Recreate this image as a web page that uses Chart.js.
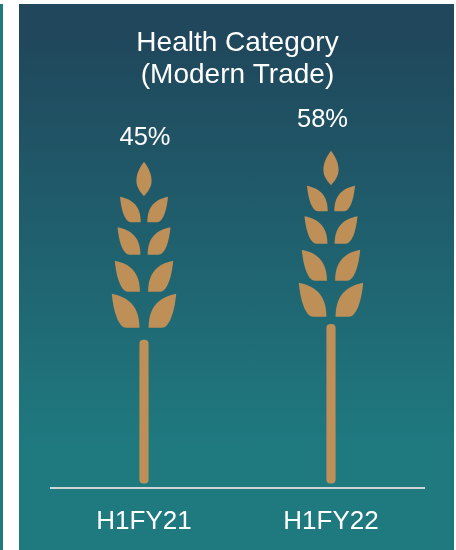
<!DOCTYPE html>
<html lang="en">
<head>
  <meta charset="UTF-8">
  <title>Health Category (Modern Trade)</title>
  <script src="https://cdn.jsdelivr.net/npm/chart.js"></script>
  <style>
    html, body { margin: 0; padding: 0; background: #fff; }
    body { width: 456px; height: 550px; position: relative; overflow: hidden; }
    #edge { position: absolute; left: 0; top: 4px; width: 3px; bottom: 0; background: #1f7a80; }
    #panel {
      position: absolute; left: 19px; top: 4px; right: 2px; bottom: 0;
      background: linear-gradient(180deg, #20475c 6%, #1f7a80 82%);
    }
    #wrap { position: absolute; left: 0; top: 0; width: 456px; height: 550px; }
  </style>
</head>
<body>
  <div id="edge"></div>
  <div id="panel"></div>
  <div id="wrap"><canvas id="shareChart"></canvas></div>

  <script>
    const titleLines = ['Health Category', '(Modern Trade)'];
    const periods = ['H1FY21', 'H1FY22'];
    const shares = [45, 58];

    const WHEAT = '#bf8f58';
    const STEM_BASE = -73.4;
    // per bar: gap between stem top and wheat head, then value label nudges
    const headGaps = [12.3, 7.6];
    const labelDx = [1, -8.5];
    const labelDy = [195, 197];

    function leaf(ctx, cx, side, innerX, tipX, tipY, bottomY) {
      const w = tipX - innerX;
      const h = bottomY - tipY;
      const px = f => cx + side * (innerX + w * (1 - f));
      ctx.beginPath();
      ctx.moveTo(px(0), tipY);
      ctx.bezierCurveTo(px(0.6), tipY + h * 0.1, px(1), tipY + h * 0.36, px(1), bottomY);
      ctx.lineTo(px(0.52), bottomY);
      ctx.bezierCurveTo(px(0.28), bottomY, px(0.07), tipY + h * 0.62, px(0), tipY);
      ctx.closePath();
      ctx.fill();
    }

    // wheat head, drawn upward from its bottom edge
    function wheatHead(ctx, cx, bottom) {
      const top = bottom - 166;
      ctx.fillStyle = WHEAT;
      ctx.beginPath();
      ctx.moveTo(cx, top);
      ctx.bezierCurveTo(cx + 4.5, top + 6, cx + 7.6, top + 12, cx + 7.6, top + 19);
      ctx.bezierCurveTo(cx + 7.6, top + 26, cx + 3, top + 31, cx, top + 34.5);
      ctx.bezierCurveTo(cx - 3, top + 31, cx - 7.6, top + 26, cx - 7.6, top + 19);
      ctx.bezierCurveTo(cx - 7.6, top + 12, cx - 4.5, top + 6, cx, top);
      ctx.fill();
      const rows = [
        [3.3, 24, 35, 60.5],
        [3.6, 26.5, 65.5, 93],
        [4.1, 29.2, 99, 130],
        [4.6, 32.2, 132, 166]
      ];
      rows.forEach(r => {
        leaf(ctx, cx, -1, r[0], r[1], top + r[2], top + r[3]);
        leaf(ctx, cx, 1, r[0], r[1], top + r[2], top + r[3]);
      });
    }

    const wheatPlugin = {
      id: 'wheatHeads',
      afterDatasetsDraw(chart) {
        const ctx = chart.ctx;
        const bars = chart.getDatasetMeta(0).data;
        ctx.save();
        bars.forEach((bar, i) => {
          wheatHead(ctx, bar.x, bar.y - headGaps[i]);
          ctx.fillStyle = '#ffffff';
          ctx.font = '25.5px "Liberation Sans", Arial, sans-serif';
          ctx.textAlign = 'center';
          ctx.textBaseline = 'alphabetic';
          ctx.fillText(shares[i] + '%', bar.x + labelDx[i], bar.y - labelDy[i]);
        });
        ctx.restore();
      }
    };

    new Chart(document.getElementById('shareChart'), {
      type: 'bar',
      data: {
        labels: periods,
        datasets: [{
          data: shares,
          base: STEM_BASE,
          backgroundColor: WHEAT,
          barThickness: 8.5,
          borderRadius: 4,
          borderSkipped: false
        }]
      },
      options: {
        responsive: true,
        maintainAspectRatio: false,
        animation: false,
        layout: { padding: { left: 50.5, right: 31.5, top: 27, bottom: 18 } },
        plugins: {
          legend: { display: false },
          tooltip: { enabled: false },
          title: {
            display: true,
            text: titleLines,
            color: '#ffffff',
            font: { family: '"Liberation Sans", Arial, sans-serif', size: 28, weight: 'normal', lineHeight: 1.15 },
            padding: { top: 0, bottom: 11 }
          }
        },
        scales: {
          x: {
            grid: { display: false, drawTicks: false },
            border: { color: '#ced6d6', width: 2 },
            afterFit(scale) { scale.height = 44; },
            ticks: {
              color: '#ffffff',
              padding: 18,
              font: { family: '"Liberation Sans", Arial, sans-serif', size: 26 }
            }
          },
          y: { display: false, min: -77.5, max: 241.7 }
        }
      },
      plugins: [wheatPlugin]
    });
  </script>
</body>
</html>
